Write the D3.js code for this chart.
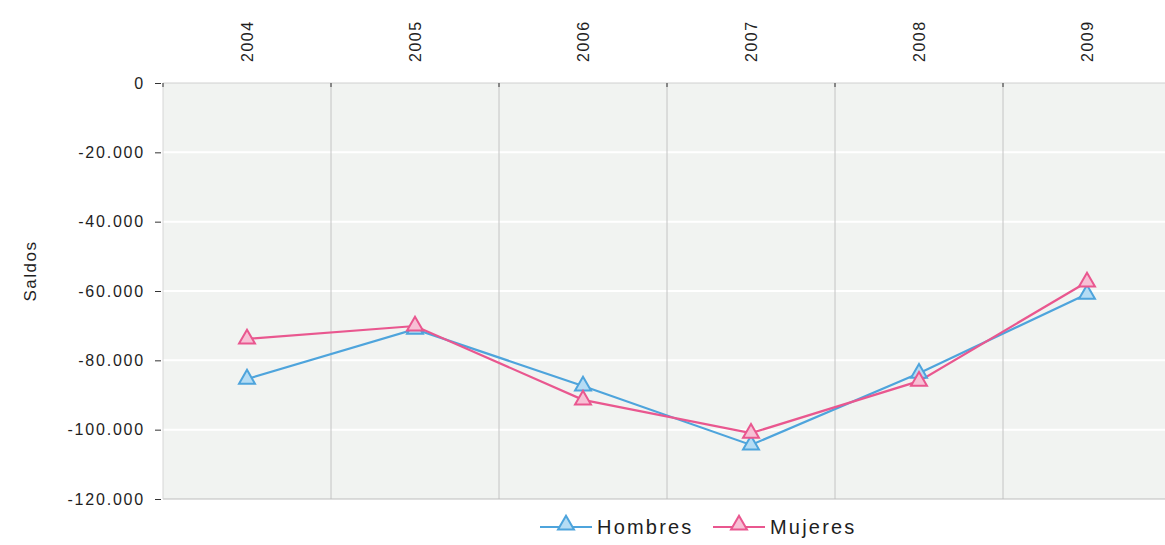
<!DOCTYPE html>
<html>
<head>
<meta charset="utf-8">
<script src="https://cdn.jsdelivr.net/npm/d3@7"></script>
<style>
  body { margin: 0; background: #fff; }
  text { font-family: "Liberation Sans", Arial, sans-serif; fill: #1e1e1e; }
</style>
</head>
<body>
<div id="chart"></div>
<script>
// Data
const years = ["2004", "2005", "2006", "2007", "2008", "2009"];
const hombres = [-85400, -71000, -87400, -104400, -83700, -60900];
const mujeres = [-73800, -70100, -91400, -101000, -86000, -57400];
const yTicks = [0, -20000, -40000, -60000, -80000, -100000, -120000];

const seriesNames = ["Hombres", "Mujeres"];
const seriesColors = ["#4ea4dc", "#e9578f"];
const seriesFills = ["#b5dcf4", "#f7c0d5"];

// Dimensions
const W = 1165, H = 545;
const margin = { top: 83, right: -6, bottom: 46, left: 163 };
const width = W - margin.left - margin.right;
const height = H - margin.top - margin.bottom;

const svg = d3.select("#chart").append("svg")
    .attr("width", W)
    .attr("height", H);

const g = svg.append("g")
    .attr("transform", `translate(${margin.left},${margin.top})`);

// Scales
const x = d3.scaleBand().domain(years).range([0, width]);
const y = d3.scaleLinear().domain([-120000, 0]).range([height, 0]);

const loc = d3.formatLocale({ decimal: ",", thousands: ".", grouping: [3], currency: ["", ""], minus: "-" });
const fmt = loc.format(",d");

// Plot background
g.append("rect")
    .attr("width", width)
    .attr("height", height)
    .attr("fill", "#f1f3f1");

// Horizontal grid (white)
g.selectAll(".hgrid")
    .data(yTicks.slice(1, -1))
    .enter().append("line")
    .attr("x1", 0).attr("x2", width)
    .attr("y1", d => y(d)).attr("y2", d => y(d))
    .attr("stroke", "#ffffff")
    .attr("stroke-width", 2);

// Vertical grid between categories
const bounds = years.slice(1).map(d => x(d));
g.selectAll(".vgrid")
    .data(bounds)
    .enter().append("line")
    .attr("x1", d => d).attr("x2", d => d)
    .attr("y1", 0).attr("y2", height)
    .attr("stroke", "#c4c4c4")
    .attr("stroke-width", 1);

// Frame lines
g.append("line").attr("x1", 0).attr("x2", width).attr("y1", 0).attr("y2", 0)
    .attr("stroke", "#d0d0d0");
g.append("line").attr("x1", 0).attr("x2", width).attr("y1", height).attr("y2", height)
    .attr("stroke", "#bdbdbd");
g.append("line").attr("x1", 0).attr("x2", 0).attr("y1", 0).attr("y2", height)
    .attr("stroke", "#d6d6d6");

// Y axis
const yAxis = g.append("g")
    .call(d3.axisLeft(y).tickValues(yTicks).tickFormat(fmt).tickSize(6).tickPadding(12));
yAxis.select(".domain").remove();
yAxis.selectAll(".tick line").attr("stroke", "#333").attr("transform", "translate(-2,0)");
yAxis.selectAll("text")
    .style("font-size", "16px")
    .style("letter-spacing", "1.8px")
    .attr("fill", "#1e1e1e");

// Top tick marks at boundaries
g.selectAll(".ttick")
    .data([0].concat(bounds))
    .enter().append("line")
    .attr("x1", d => d).attr("x2", d => d)
    .attr("y1", 0).attr("y2", 4)
    .attr("stroke", "#333");

// Top category labels (rotated)
g.selectAll(".xlab")
    .data(years)
    .enter().append("text")
    .attr("transform", d => `translate(${x(d) + x.bandwidth() / 2 + 6},-21) rotate(-90)`)
    .attr("text-anchor", "start")
    .style("font-size", "16px")
    .style("letter-spacing", "1.5px")
    .text(d => d);

// Y axis title
svg.append("text")
    .attr("transform", "translate(36,271) rotate(-90)")
    .attr("text-anchor", "middle")
    .style("font-size", "17px")
    .style("letter-spacing", "1.5px")
    .text("Saldos");

// Lines
const line = d3.line()
    .x((d, i) => x(years[i]) + x.bandwidth() / 2)
    .y(d => y(d));

const tri = d3.symbol().type(d3.symbolTriangle).size(110);

[hombres, mujeres].forEach((vals, k) => {
    g.append("path")
        .datum(vals)
        .attr("d", line)
        .attr("fill", "none")
        .attr("stroke", seriesColors[k])
        .attr("stroke-width", 2.2);
});

[hombres, mujeres].forEach((vals, k) => {
    g.selectAll(".m" + k)
        .data(vals)
        .enter().append("path")
        .attr("d", tri)
        .attr("transform", (d, i) => `translate(${x(years[i]) + x.bandwidth() / 2},${y(d)})`)
        .attr("fill", seriesFills[k])
        .attr("stroke", seriesColors[k])
        .attr("stroke-width", 2);
});

// Legend
const legend = svg.append("g").attr("transform", "translate(540,527)");
const legX = [0, 173];
seriesNames.forEach((name, k) => {
    const lg = legend.append("g").attr("transform", `translate(${legX[k]},0)`);
    lg.append("line").attr("x1", 0).attr("x2", 52).attr("y1", 0).attr("y2", 0)
        .attr("stroke", seriesColors[k]).attr("stroke-width", 2.2);
    lg.append("path").attr("d", tri).attr("transform", "translate(26,-2)")
        .attr("fill", seriesFills[k]).attr("stroke", seriesColors[k]).attr("stroke-width", 2);
    lg.append("text").attr("x", 57).attr("y", 7)
        .style("font-size", "20px")
        .style("letter-spacing", "2.2px")
        .text(name);
});
</script>
</body>
</html>
